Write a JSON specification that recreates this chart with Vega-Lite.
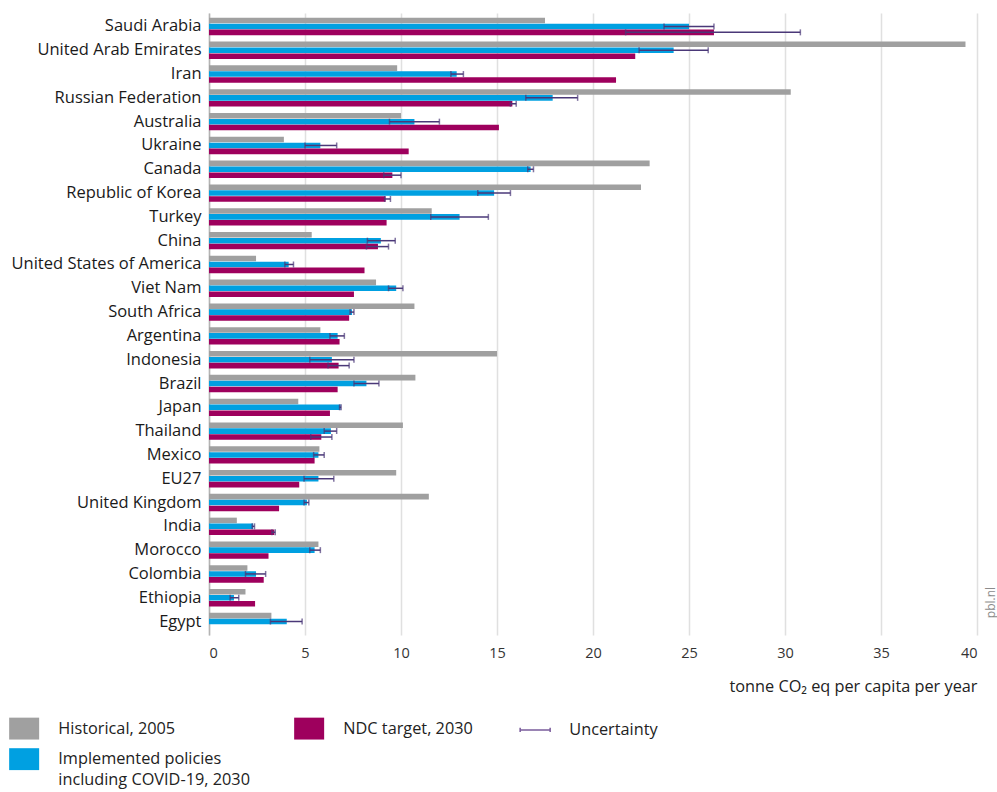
{
  "$schema": "https://vega.github.io/schema/vega-lite/v6.json",
  "width": 768,
  "height": 622,
  "autosize": {"type": "none"},
  "padding": {"left": 209, "top": 13, "right": 20, "bottom": 157},
  "background": "white",
  "config": {"font": "Open Sans", "view": {"stroke": null}},
  "data": {"values": [
    {"country": "Saudi Arabia", "series": "Historical, 2005", "value": 17.5},
    {"country": "Saudi Arabia", "series": "Implemented policies including COVID-19, 2030", "value": 25.0, "lo": 23.7, "hi": 26.3},
    {"country": "Saudi Arabia", "series": "NDC target, 2030", "value": 26.3, "lo": 21.7, "hi": 30.8},
    {"country": "United Arab Emirates", "series": "Historical, 2005", "value": 39.4},
    {"country": "United Arab Emirates", "series": "Implemented policies including COVID-19, 2030", "value": 24.2, "lo": 22.4, "hi": 26.0},
    {"country": "United Arab Emirates", "series": "NDC target, 2030", "value": 22.2},
    {"country": "Iran", "series": "Historical, 2005", "value": 9.8},
    {"country": "Iran", "series": "Implemented policies including COVID-19, 2030", "value": 12.9, "lo": 12.6, "hi": 13.25},
    {"country": "Iran", "series": "NDC target, 2030", "value": 21.2},
    {"country": "Russian Federation", "series": "Historical, 2005", "value": 30.3},
    {"country": "Russian Federation", "series": "Implemented policies including COVID-19, 2030", "value": 17.9, "lo": 16.5, "hi": 19.2},
    {"country": "Russian Federation", "series": "NDC target, 2030", "value": 15.8, "lo": 15.7, "hi": 16.0},
    {"country": "Australia", "series": "Historical, 2005", "value": 10.0},
    {"country": "Australia", "series": "Implemented policies including COVID-19, 2030", "value": 10.7, "lo": 9.4, "hi": 12.0},
    {"country": "Australia", "series": "NDC target, 2030", "value": 15.1},
    {"country": "Ukraine", "series": "Historical, 2005", "value": 3.9},
    {"country": "Ukraine", "series": "Implemented policies including COVID-19, 2030", "value": 5.8, "lo": 5.0, "hi": 6.65},
    {"country": "Ukraine", "series": "NDC target, 2030", "value": 10.4},
    {"country": "Canada", "series": "Historical, 2005", "value": 22.95},
    {"country": "Canada", "series": "Implemented policies including COVID-19, 2030", "value": 16.75, "lo": 16.6, "hi": 16.9},
    {"country": "Canada", "series": "NDC target, 2030", "value": 9.55, "lo": 9.1, "hi": 10.0},
    {"country": "Republic of Korea", "series": "Historical, 2005", "value": 22.5},
    {"country": "Republic of Korea", "series": "Implemented policies including COVID-19, 2030", "value": 14.85, "lo": 14.0, "hi": 15.7},
    {"country": "Republic of Korea", "series": "NDC target, 2030", "value": 9.2, "lo": 9.15, "hi": 9.45},
    {"country": "Turkey", "series": "Historical, 2005", "value": 11.6},
    {"country": "Turkey", "series": "Implemented policies including COVID-19, 2030", "value": 13.05, "lo": 11.55, "hi": 14.55},
    {"country": "Turkey", "series": "NDC target, 2030", "value": 9.25},
    {"country": "China", "series": "Historical, 2005", "value": 5.35},
    {"country": "China", "series": "Implemented policies including COVID-19, 2030", "value": 8.95, "lo": 8.25, "hi": 9.7},
    {"country": "China", "series": "NDC target, 2030", "value": 8.8, "lo": 8.2, "hi": 9.35},
    {"country": "United States of America", "series": "Historical, 2005", "value": 2.45},
    {"country": "United States of America", "series": "Implemented policies including COVID-19, 2030", "value": 4.15, "lo": 3.95, "hi": 4.4},
    {"country": "United States of America", "series": "NDC target, 2030", "value": 8.1},
    {"country": "Viet Nam", "series": "Historical, 2005", "value": 8.7},
    {"country": "Viet Nam", "series": "Implemented policies including COVID-19, 2030", "value": 9.75, "lo": 9.35, "hi": 10.1},
    {"country": "Viet Nam", "series": "NDC target, 2030", "value": 7.55},
    {"country": "South Africa", "series": "Historical, 2005", "value": 10.7},
    {"country": "South Africa", "series": "Implemented policies including COVID-19, 2030", "value": 7.45, "lo": 7.35, "hi": 7.55},
    {"country": "South Africa", "series": "NDC target, 2030", "value": 7.3},
    {"country": "Argentina", "series": "Historical, 2005", "value": 5.8},
    {"country": "Argentina", "series": "Implemented policies including COVID-19, 2030", "value": 6.7, "lo": 6.3, "hi": 7.05},
    {"country": "Argentina", "series": "NDC target, 2030", "value": 6.8},
    {"country": "Indonesia", "series": "Historical, 2005", "value": 15.0},
    {"country": "Indonesia", "series": "Implemented policies including COVID-19, 2030", "value": 6.4, "lo": 5.25, "hi": 7.55},
    {"country": "Indonesia", "series": "NDC target, 2030", "value": 6.75, "lo": 6.2, "hi": 7.3},
    {"country": "Brazil", "series": "Historical, 2005", "value": 10.75},
    {"country": "Brazil", "series": "Implemented policies including COVID-19, 2030", "value": 8.2, "lo": 7.55, "hi": 8.85},
    {"country": "Brazil", "series": "NDC target, 2030", "value": 6.7},
    {"country": "Japan", "series": "Historical, 2005", "value": 4.65},
    {"country": "Japan", "series": "Implemented policies including COVID-19, 2030", "value": 6.85, "lo": 6.8, "hi": 6.88},
    {"country": "Japan", "series": "NDC target, 2030", "value": 6.3},
    {"country": "Thailand", "series": "Historical, 2005", "value": 10.1},
    {"country": "Thailand", "series": "Implemented policies including COVID-19, 2030", "value": 6.35, "lo": 6.0, "hi": 6.65},
    {"country": "Thailand", "series": "NDC target, 2030", "value": 5.85, "lo": 5.3, "hi": 6.4},
    {"country": "Mexico", "series": "Historical, 2005", "value": 5.75},
    {"country": "Mexico", "series": "Implemented policies including COVID-19, 2030", "value": 5.7, "lo": 5.45, "hi": 6.0},
    {"country": "Mexico", "series": "NDC target, 2030", "value": 5.5},
    {"country": "EU27", "series": "Historical, 2005", "value": 9.75},
    {"country": "EU27", "series": "Implemented policies including COVID-19, 2030", "value": 5.7, "lo": 4.95, "hi": 6.5},
    {"country": "EU27", "series": "NDC target, 2030", "value": 4.7},
    {"country": "United Kingdom", "series": "Historical, 2005", "value": 11.45},
    {"country": "United Kingdom", "series": "Implemented policies including COVID-19, 2030", "value": 5.1, "lo": 4.95, "hi": 5.2},
    {"country": "United Kingdom", "series": "NDC target, 2030", "value": 3.65},
    {"country": "India", "series": "Historical, 2005", "value": 1.45},
    {"country": "India", "series": "Implemented policies including COVID-19, 2030", "value": 2.3, "lo": 2.25, "hi": 2.37},
    {"country": "India", "series": "NDC target, 2030", "value": 3.4, "lo": 3.28, "hi": 3.45},
    {"country": "Morocco", "series": "Historical, 2005", "value": 5.7},
    {"country": "Morocco", "series": "Implemented policies including COVID-19, 2030", "value": 5.5, "lo": 5.25, "hi": 5.8},
    {"country": "Morocco", "series": "NDC target, 2030", "value": 3.1},
    {"country": "Colombia", "series": "Historical, 2005", "value": 2.0},
    {"country": "Colombia", "series": "Implemented policies including COVID-19, 2030", "value": 2.45, "lo": 1.9, "hi": 2.95},
    {"country": "Colombia", "series": "NDC target, 2030", "value": 2.85},
    {"country": "Ethiopia", "series": "Historical, 2005", "value": 1.9},
    {"country": "Ethiopia", "series": "Implemented policies including COVID-19, 2030", "value": 1.3, "lo": 1.1, "hi": 1.55},
    {"country": "Ethiopia", "series": "NDC target, 2030", "value": 2.4},
    {"country": "Egypt", "series": "Historical, 2005", "value": 3.25},
    {"country": "Egypt", "series": "Implemented policies including COVID-19, 2030", "value": 4.05, "lo": 3.2, "hi": 4.85}
  ]},
  "layer": [
    {
      "mark": {"type": "bar"},
      "encoding": {
        "y": {"field": "country", "type": "nominal",
          "sort": ["Saudi Arabia", "United Arab Emirates", "Iran", "Russian Federation", "Australia", "Ukraine", "Canada", "Republic of Korea", "Turkey", "China", "United States of America", "Viet Nam", "South Africa", "Argentina", "Indonesia", "Brazil", "Japan", "Thailand", "Mexico", "EU27", "United Kingdom", "India", "Morocco", "Colombia", "Ethiopia", "Egypt"],
          "scale": {"paddingInner": 0.27},
          "axis": {"title": null, "ticks": false, "labelFontSize": 16.5, "labelColor": "#1a1a1a", "labelPadding": 8, "labelLimit": 300, "domain": true, "domainColor": "#b4b4b4", "domainWidth": 1.5, "grid": false}},
        "yOffset": {"field": "series", "type": "nominal",
          "scale": {"domain": ["Historical, 2005", "Implemented policies including COVID-19, 2030", "NDC target, 2030"], "paddingInner": 0.06}},
        "x": {"field": "value", "type": "quantitative",
          "scale": {"domain": [0, 40], "nice": false},
          "axis": {"title": "tonne CO₂ eq per capita per year", "values": [0, 5, 10, 15, 20, 25, 30, 35, 40], "ticks": false, "domain": false, "grid": true, "gridColor": "#e0e0e0", "gridWidth": 1.5, "labelFontSize": 14.5, "labelColor": "#333333", "labelPadding": 11, "titleAnchor": "end", "titleFontSize": 16.3, "titleFontWeight": "normal", "titleColor": "#222222", "titlePadding": 19}},
        "color": {"field": "series", "type": "nominal",
          "scale": {"domain": ["Historical, 2005", "NDC target, 2030", "Uncertainty", "Implemented policies including COVID-19, 2030"], "range": ["#a0a0a0", "#9e005d", "#7a5c9c", "#00a0e1"]},
          "legend": {"orient": "none", "legendX": -193, "legendY": 707, "direction": "horizontal", "columns": 3, "title": null,
            "symbolType": "square", "symbolSize": 900, "symbolStrokeWidth": 0, "symbolOpacity": 1,
            "labelFontSize": 16.3, "labelColor": "#222222", "labelOffset": 26, "columnPadding": 44, "rowPadding": 8, "labelLimit": 400,
            "labelExpr": "datum.value == 'Implemented policies including COVID-19, 2030' ? ['Implemented policies', 'including COVID-19, 2030'] : datum.label",
            "encode": {
              "labels": {"update": {"lineHeight": {"value": 21}}},
              "symbols": {"update": {
                "shape": {"signal": "datum.value == 'Uncertainty' ? 'M-1,-0.14V0.14M-1,0H1M1,-0.14V0.14' : 'M-1,-0.73H1V0.73H-1Z'"},
                "stroke": {"signal": "datum.value == 'Uncertainty' ? '#7a5c9c' : null"},
                "strokeWidth": {"signal": "datum.value == 'Uncertainty' ? 1.5 : 0"},
                "fill": {"signal": "datum.value == 'Uncertainty' ? 'transparent' : scale('color', datum.value)"}
              }}}}}
      }
    },
    {
      "transform": [{"filter": "isValid(datum.lo)"}],
      "encoding": {
        "y": {"field": "country", "type": "nominal",
          "sort": ["Saudi Arabia", "United Arab Emirates", "Iran", "Russian Federation", "Australia", "Ukraine", "Canada", "Republic of Korea", "Turkey", "China", "United States of America", "Viet Nam", "South Africa", "Argentina", "Indonesia", "Brazil", "Japan", "Thailand", "Mexico", "EU27", "United Kingdom", "India", "Morocco", "Colombia", "Ethiopia", "Egypt"],
          "axis": {"orient": "right", "labels": false, "ticks": false, "domain": false, "grid": false, "title": "pbl.nl", "titleAngle": 270, "titleColor": "#8c8c8c", "titleFontSize": 12, "titleFontWeight": "normal", "titleX": 13, "titleY": 589, "titleAlign": "center", "titleBaseline": "middle"}},
        "yOffset": {"field": "series", "type": "nominal"}
      },
      "layer": [
        {"mark": {"type": "rule", "color": "#4a3878", "strokeWidth": 1.5},
         "encoding": {"x": {"field": "lo", "type": "quantitative", "title": "tonne CO₂ eq per capita per year"}, "x2": {"field": "hi"}}},
        {"mark": {"type": "tick", "color": "#4a3878", "thickness": 1.5, "size": 6},
         "encoding": {"x": {"field": "lo", "type": "quantitative", "title": "tonne CO₂ eq per capita per year"}}},
        {"mark": {"type": "tick", "color": "#4a3878", "thickness": 1.5, "size": 6},
         "encoding": {"x": {"field": "hi", "type": "quantitative", "title": "tonne CO₂ eq per capita per year"}}}
      ]
    }
  ],
  "resolve": {"axis": {"y": "independent"}}
}
